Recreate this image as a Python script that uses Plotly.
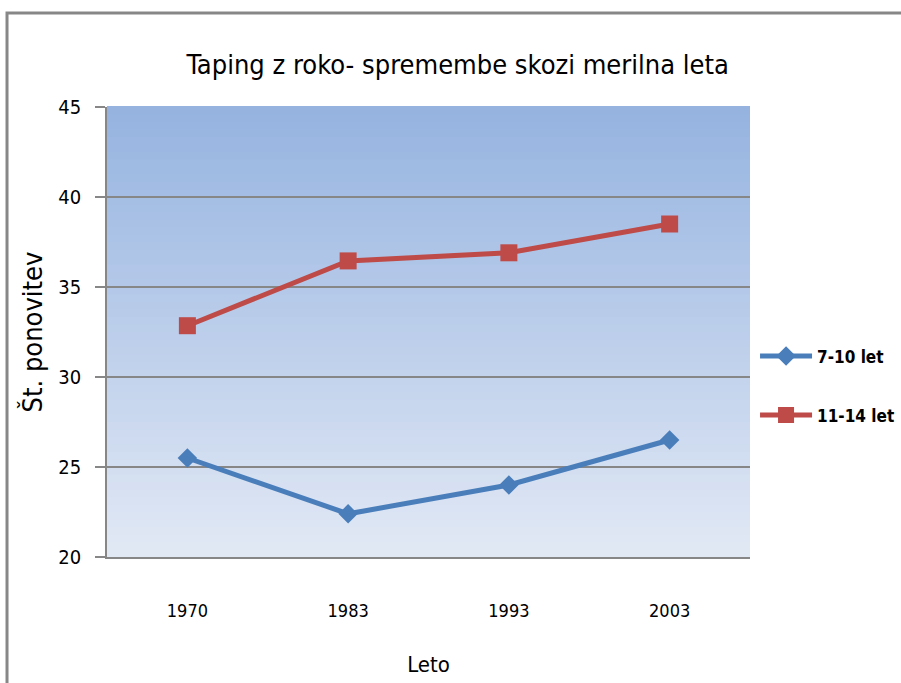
import plotly.graph_objects as go

years = ["1970", "1983", "1993", "2003"]
series_names = ["7-10 let", "11-14 let"]
vals_7_10 = [25.5, 22.4, 24.0, 26.5]
vals_11_14 = [32.85, 36.45, 36.9, 38.5]
y_ticks = [20, 25, 30, 35, 40, 45]

NARROW = "Liberation Sans Narrow, Arial Narrow, DejaVu Sans Condensed, sans-serif"

fig = go.Figure()
fig.add_trace(go.Scatter(
    x=years, y=vals_7_10, name=series_names[0], mode="lines+markers",
    line=dict(color="#4A7EBB", width=5),
    marker=dict(symbol="diamond", size=15, color="#4A7EBB"),
    legendgroup="a",
))
fig.add_trace(go.Scatter(
    x=years, y=vals_11_14, name=series_names[1], mode="lines+markers",
    line=dict(color="#BE4B48", width=5),
    marker=dict(symbol="square", size=17, color="#BE4B48"),
    legendgroup="b",
))

# vertical gradient background for plot area
top = (0x95, 0xB3, 0xE0)
bot = (0xE2, 0xE9, 0xF5)
n = 60
shapes = []
for i in range(n):
    t = (i + 0.5) / n
    c = tuple(round(bot[k] + (top[k] - bot[k]) * t) for k in range(3))
    shapes.append(dict(type="rect", xref="x domain", yref="y domain",
                       x0=0, x1=1, y0=i / n, y1=(i + 1) / n + 0.002,
                       fillcolor="rgb(%d,%d,%d)" % c, line=dict(width=0),
                       layer="below"))
# outer chart border (right and bottom sides lie outside the picture)
shapes.append(dict(type="rect", xref="paper", yref="paper",
                   x0=-0.1555, x1=1.35, y0=-0.35, y1=1.2089,
                   line=dict(color="#878787", width=3), fillcolor="rgba(0,0,0,0)",
                   layer="above"))

fig.update_layout(
    width=901, height=683,
    margin=dict(l=107, r=151, t=107, b=126, autoexpand=False),
    paper_bgcolor="white",
    plot_bgcolor="#E2E9F5",
    shapes=shapes,
    title=dict(text="Taping z roko- spremembe skozi merilna leta",
               x=0.508, xanchor="center", y=0.905, yanchor="middle",
               font=dict(family=NARROW, size=27, color="black")),
    xaxis=dict(type="category", range=[-0.5, 3.5], automargin=False,
               showgrid=False, showline=True, linecolor="#878787", linewidth=2,
               ticks="", tickfont=dict(family=NARROW, size=18, color="black"),
               ticklabelstandoff=36,
               title=dict(text="Leto", font=dict(family=NARROW, size=22, color="black"),
                          standoff=37)),
    yaxis=dict(range=[20, 45], tickvals=y_ticks, showgrid=True, gridcolor="#878787",
               automargin=False,
               gridwidth=1.5, showline=True, linecolor="#878787", linewidth=1.5,
               ticks="outside", ticklen=10, tickcolor="#878787", tickwidth=1.5,
               tickfont=dict(family=NARROW, size=20, color="black"),
               ticklabelstandoff=10, zeroline=False,
               title=dict(text="Št. ponovitev", font=dict(family=NARROW, size=27, color="black"),
                          standoff=8)),
    legend=dict(xref="container", yref="container", x=0.838, xanchor="left",
                y=0.435, yanchor="middle",
                traceorder="grouped", tracegroupgap=34, itemwidth=52,
                font=dict(family=NARROW, size=17, color="black", weight="bold"),
                bgcolor="rgba(0,0,0,0)"),
    showlegend=True,
)

fig.write_html("out.html", config={"displayModeBar": False},
               post_script="document.body.style.margin='0';")
